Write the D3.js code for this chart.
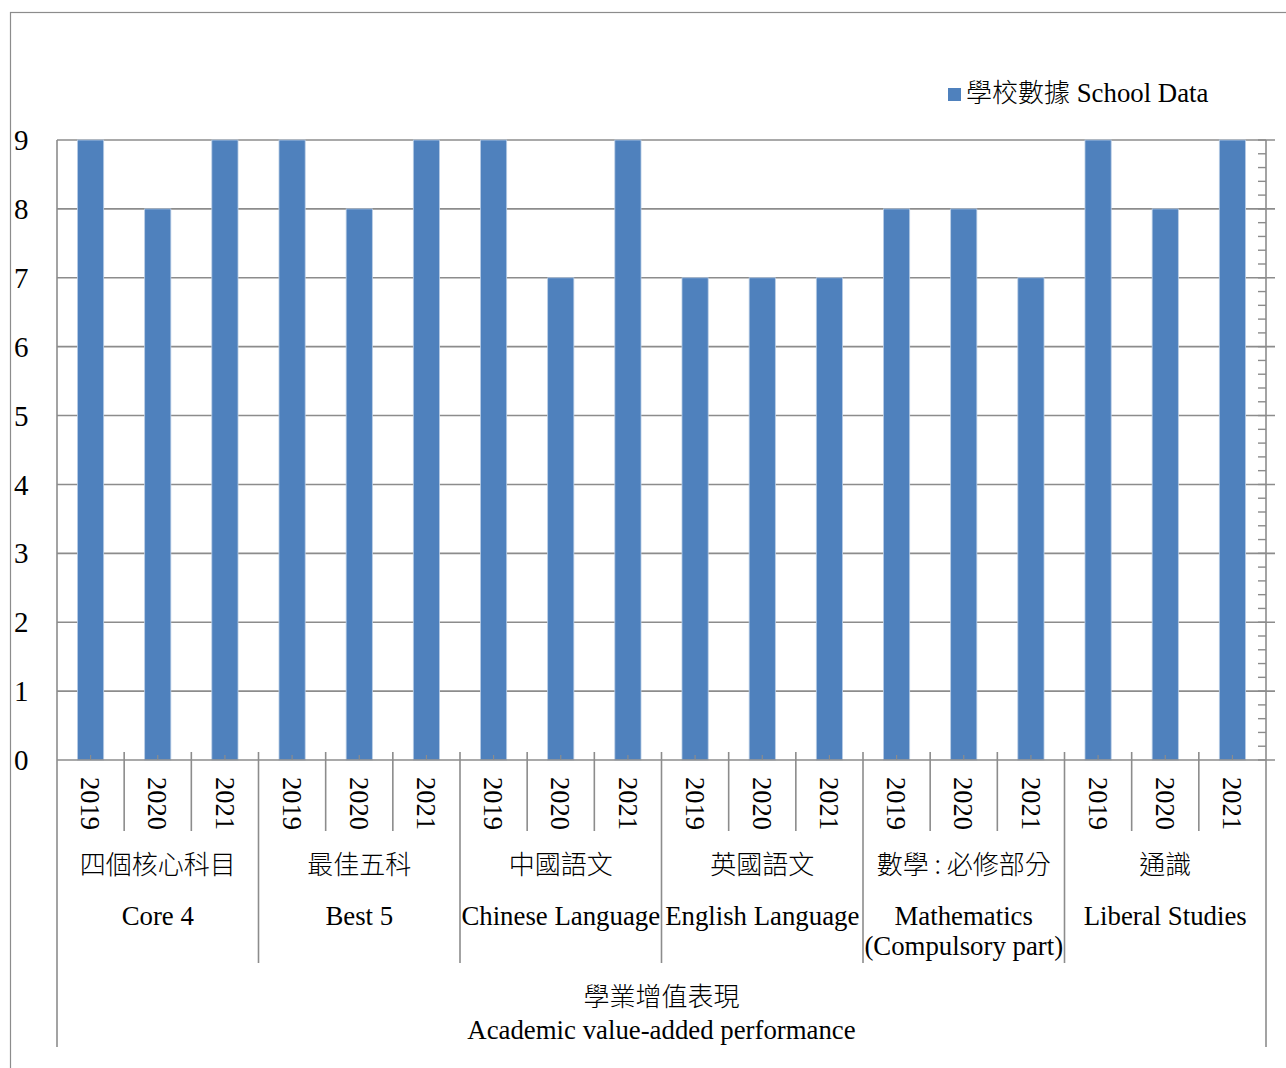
<!DOCTYPE html>
<html><head><meta charset="utf-8">
<script src="https://cdn.jsdelivr.net/npm/d3@7/dist/d3.min.js"></script>
<style>
html,body{margin:0;padding:0;background:#fff;}
svg text{font-family:"Liberation Serif","Times New Roman","Noto Sans CJK TC",serif;fill:#000;}
svg .cjk{font-family:"Noto Sans CJK TC","Liberation Serif",sans-serif;font-weight:300;}
</style></head>
<body>
<svg id="chart" width="1286" height="1068"></svg>
<script>
const groupsZh = ["四個核心科目","最佳五科","中國語文","英國語文","數學 : 必修部分","通識"];
const groupsEn = [["Core 4"],["Best 5"],["Chinese Language"],["English Language"],["Mathematics","(Compulsory part)"],["Liberal Studies"]];
const years = ["2019","2020","2021"];
const schoolData = [
  [9,8,9],
  [9,8,9],
  [9,7,9],
  [7,7,7],
  [8,8,7],
  [9,8,9]
];
const yTicks = [0,1,2,3,4,5,6,7,8,9];
const legendZh = "學校數據";
const legendEn = "School Data";
const axisTitleZh = "學業增值表現";
const axisTitleEn = "Academic value-added performance";

(function(){
const svg = d3.select("#chart");
const gray = "#8c8c8c";
const barColor = "#4F81BD";

svg.append("rect").attr("x",10.5).attr("y",12.5).attr("width",1300).attr("height",1100)
  .attr("fill","none").attr("stroke",gray).attr("stroke-width",1.2);

const pL = 57, pR = 1266, pT = 140, pB = 760;
const x0 = d3.scaleBand().domain(d3.range(groupsZh.length)).range([pL,pR]).padding(0);
const x1 = d3.scaleBand().domain(years).range([0,x0.bandwidth()]).paddingInner(0.61).paddingOuter(0.305);
const y = d3.scaleLinear().domain([0,9]).range([pB,pT]);

svg.append("g").selectAll("line").data(yTicks.filter(d=>d>0)).join("line")
  .attr("x1",pL).attr("x2",1275).attr("y1",d=>y(d)).attr("y2",d=>y(d))
  .attr("stroke",gray).attr("stroke-width",1.6);

const gGroups = svg.append("g").selectAll("g").data(schoolData).join("g")
  .attr("transform",(d,i)=>`translate(${x0(i)},0)`);
gGroups.selectAll("rect").data(d=>d.map((v,j)=>({v,yr:years[j]}))).join("rect")
  .attr("x",d=>x1(d.yr)).attr("width",x1.bandwidth())
  .attr("y",d=>y(d.v)).attr("height",d=>y(0)-y(d.v))
  .attr("fill",barColor).attr("stroke","#b9cde5").attr("stroke-width",0.8);

svg.append("g").selectAll("text").data(yTicks).join("text")
  .attr("x",14).attr("y",d=>y(d)).attr("dy","0.35em")
  .attr("font-size",29).text(d=>d);

svg.append("line").attr("x1",pR).attr("x2",pR).attr("y1",pT).attr("y2",1047)
  .attr("stroke",gray).attr("stroke-width",1.6);
const minor = d3.range(0,9.001,0.2);
svg.append("g").selectAll("line").data(minor).join("line")
  .attr("x1",1258).attr("x2",pR).attr("y1",d=>y(d)).attr("y2",d=>y(d))
  .attr("stroke",gray).attr("stroke-width",1.4);

svg.append("line").attr("x1",pL).attr("x2",pL).attr("y1",pT).attr("y2",1047)
  .attr("stroke",gray).attr("stroke-width",1.6);

svg.append("line").attr("x1",pL).attr("x2",1275).attr("y1",pB).attr("y2",pB)
  .attr("stroke",gray).attr("stroke-width",1.6);

const sepG = svg.append("g");
groupsZh.forEach((g,i)=>{
  years.forEach((yr,j)=>{
    if (j>0) {
      const sx = x0(i)+x1.step()*j;
      sepG.append("line").attr("x1",sx).attr("x2",sx)
        .attr("y1",752).attr("y2",831).attr("stroke",gray).attr("stroke-width",1.6);
    }
    const cx = x0(i)+x1(yr)+x1.bandwidth()/2;
    sepG.append("line").attr("x1",cx).attr("x2",cx).attr("y1",755).attr("y2",760)
      .attr("stroke",gray).attr("stroke-width",1.2);
    svg.append("text").attr("transform",`translate(${cx},777) rotate(90)`)
      .attr("dy","0.35em").attr("font-size",26.5).text(yr);
  });
  if (i>0) {
    sepG.append("line").attr("x1",x0(i)).attr("x2",x0(i)).attr("y1",752).attr("y2",963)
      .attr("stroke",gray).attr("stroke-width",1.6);
  }
  const gc = x0(i)+x0.bandwidth()/2;
  svg.append("text").attr("class","cjk").attr("x",gc).attr("y",874).attr("text-anchor","middle")
    .attr("font-size",26).text(g);
  groupsEn[i].forEach((t,k)=>{
    svg.append("text").attr("x",gc).attr("y",925+k*30).attr("text-anchor","middle")
      .attr("font-size",26.8).text(t);
  });
});

const mid = (pL+pR)/2;
svg.append("text").attr("class","cjk").attr("x",mid).attr("y",1006).attr("text-anchor","middle").attr("font-size",26).text(axisTitleZh);
svg.append("text").attr("x",mid).attr("y",1039).attr("text-anchor","middle").attr("font-size",26.8).text(axisTitleEn);

svg.append("rect").attr("x",948).attr("y",88).attr("width",13).attr("height",13).attr("fill",barColor);
const lt = svg.append("text").attr("x",966).attr("y",102).attr("font-size",26.8);
lt.append("tspan").attr("class","cjk").attr("font-size",26).text(legendZh);
lt.append("tspan").text(" " + legendEn);
})();
</script>
</body></html>
